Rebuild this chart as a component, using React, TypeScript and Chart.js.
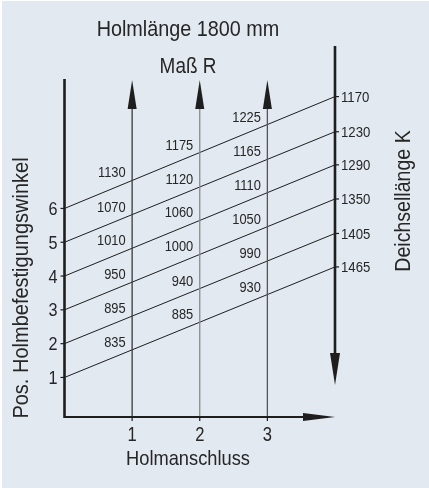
import React, { useEffect, useRef } from "react";
import { Chart, registerables } from "chart.js";

Chart.register(...registerables);

// ---- data ----
const positions = [1, 2, 3, 4, 5, 6];
const positionLabels = ["1", "2", "3", "4", "5", "6"];
const deichselLabels = ["1465", "1405", "1350", "1290", "1230", "1170"];
const rightEndY = [4.27, 5.26, 6.28, 7.29, 8.27, 9.31];
const columns = [1, 2, 3];
const columnTickLabels = ["1", "2", "3"];
const rCol1 = ["835", "895", "950", "1010", "1070", "1130"];
const rCol2 = ["885", "940", "1000", "1060", "1120", "1175"];
const rCol3 = ["930", "990", "1050", "1110", "1165", "1225"];
const rColumns = [rCol1, rCol2, rCol3];
const titleText = "Holmlänge 1800 mm";
const subtitleText = "Maß R";
const yAxisTitle = "Pos. Holmbefestigungswinkel";
const rightAxisTitle = "Deichsellänge K";
const xAxisTitle = "Holmanschluss";

const X_MIN = 0;
const X_MAX = 4;
const Y_MIN = -0.17;
const Y_MAX = 9.83;
const RIGHT_AXIS_TOP = 10.81;
const RIGHT_AXIS_TIP = 0.78;
const RIGHT_ARROW_BASE = 1.72;
const COL_TIP = 9.8;
const COL_ARROW_BASE = 8.94;

const FONT = '"Liberation Sans", Arial, sans-serif';
const INK = "#1e1e1e";
const TEXT = "#262626";
const BG = "#e2e9f1";
const columnColors = ["#3a3a3a", "#8a8a8a", "#555555"];

const bgPlugin = {
  id: "bgPlugin",
  beforeDraw(chart: any) {
    const { ctx, width, height } = chart;
    ctx.save();
    ctx.fillStyle = "#ffffff";
    ctx.fillRect(0, 0, width, height);
    ctx.fillStyle = BG;
    ctx.fillRect(2, 1, width - 2, height - 1);
    ctx.restore();
  },
};

function drawText(
  ctx: CanvasRenderingContext2D,
  text: string,
  x: number,
  y: number,
  size: number,
  sx: number,
  align: CanvasTextAlign,
  baseline: CanvasTextBaseline,
  rotate = 0
) {
  ctx.save();
  ctx.translate(x, y);
  if (rotate) ctx.rotate(rotate);
  ctx.scale(sx, 1);
  ctx.font = `${size}px ${FONT}`;
  ctx.textAlign = align;
  ctx.textBaseline = baseline;
  ctx.fillStyle = TEXT;
  ctx.fillText(text, 0, 0);
  ctx.restore();
}

const nomogramPlugin = {
  id: "nomogramPlugin",
  afterDraw(chart: any) {
    const ctx = chart.ctx as CanvasRenderingContext2D;
    const xs = chart.scales.x;
    const ys = chart.scales.y;
    const X = (v: number) => xs.getPixelForValue(v);
    const Y = (v: number) => ys.getPixelForValue(v);

    const line = (x1: number, y1: number, x2: number, y2: number, w: number, c: string) => {
      ctx.beginPath();
      ctx.moveTo(x1, y1);
      ctx.lineTo(x2, y2);
      ctx.lineWidth = w;
      ctx.strokeStyle = c;
      ctx.stroke();
    };
    const tri = (pts: number[][]) => {
      ctx.beginPath();
      ctx.moveTo(pts[0][0], pts[0][1]);
      ctx.lineTo(pts[1][0], pts[1][1]);
      ctx.lineTo(pts[2][0], pts[2][1]);
      ctx.closePath();
      ctx.fillStyle = INK;
      ctx.fill();
    };

    ctx.save();
    ctx.lineCap = "butt";

    // left axis
    line(X(0), Y(Y_MAX), X(0), Y(Y_MIN) + 1, 2.6, INK);
    // bottom axis
    line(X(0), Y(Y_MIN), X(X_MAX) - 20, Y(Y_MIN), 2.2, INK);
    tri([
      [X(X_MAX), Y(Y_MIN)],
      [X(X_MAX) - 32, Y(Y_MIN) - 4],
      [X(X_MAX) - 32, Y(Y_MIN) + 4],
    ]);
    // right axis with downward arrow
    line(X(X_MAX), Y(RIGHT_AXIS_TOP), X(X_MAX), Y(RIGHT_ARROW_BASE), 2.6, INK);
    tri([
      [X(X_MAX), Y(RIGHT_AXIS_TIP)],
      [X(X_MAX) - 5, Y(RIGHT_ARROW_BASE)],
      [X(X_MAX) + 5, Y(RIGHT_ARROW_BASE)],
    ]);

    // column arrowheads
    columns.forEach((c) => {
      tri([
        [X(c), Y(COL_TIP)],
        [X(c) - 4.5, Y(COL_ARROW_BASE)],
        [X(c) + 4.5, Y(COL_ARROW_BASE)],
      ]);
      line(X(c), Y(Y_MIN), X(c), Y(Y_MIN) + 4, 1.2, INK);
    });

    // left ticks
    positions.forEach((p) => line(X(0) - 4, Y(p), X(0), Y(p), 1.2, INK));
    // right ticks
    rightEndY.forEach((v) => line(X(X_MAX), Y(v), X(X_MAX) + 4, Y(v), 1.2, INK));

    // titles
    drawText(ctx, titleText, 188, 36, 22, 0.9, "center", "alphabetic");
    drawText(ctx, subtitleText, 188, 73, 22, 0.86, "center", "alphabetic");
    drawText(ctx, xAxisTitle, 188, 465, 21, 0.87, "center", "alphabetic");
    drawText(ctx, yAxisTitle, 28, 288, 21.5, 0.93, "center", "alphabetic", -Math.PI / 2);
    drawText(ctx, rightAxisTitle, 410, 201, 22, 0.89, "center", "alphabetic", -Math.PI / 2);

    // left position labels
    positions.forEach((p, i) =>
      drawText(ctx, positionLabels[i], X(0) - 7, Y(p) + 6.5, 18, 0.9, "right", "alphabetic")
    );

    // bottom column labels
    columns.forEach((c, i) =>
      drawText(ctx, columnTickLabels[i], X(c), Y(Y_MIN) + 24, 19.5, 0.85, "center", "alphabetic")
    );

    // right Deichsellänge labels
    rightEndY.forEach((v, i) =>
      drawText(ctx, deichselLabels[i], X(X_MAX) + 6, Y(v) + 5.5, 15.5, 0.85, "left", "alphabetic")
    );

    // Maß R labels above the lines at each column
    columns.forEach((c, ci) => {
      positions.forEach((p, i) => {
        const yAtCol = p + ((rightEndY[i] - p) * (c - X_MIN)) / (X_MAX - X_MIN);
        drawText(ctx, rColumns[ci][i], X(c) - 6.5, Y(yAtCol) - 3, 15.5, 0.83, "right", "alphabetic");
      });
    });

    ctx.restore();
  },
};

export default function App() {
  const canvasRef = useRef<HTMLCanvasElement | null>(null);

  useEffect(() => {
    document.body.style.margin = "0";
    const canvas = canvasRef.current;
    if (!canvas) return;

    const diagonalSets = positions.map((p, i) => ({
      label: `Pos ${p}`,
      data: [
        { x: X_MIN, y: p },
        { x: X_MAX, y: rightEndY[i] },
      ],
      borderColor: INK,
      borderWidth: 1,
      pointRadius: 0,
      showLine: true,
      fill: false,
    }));
    const columnSets = columns.map((c, i) => ({
      label: `Holmanschluss ${c}`,
      data: [
        { x: c, y: Y_MIN },
        { x: c, y: COL_ARROW_BASE },
      ],
      borderColor: columnColors[i],
      borderWidth: 1.3,
      pointRadius: 0,
      showLine: true,
      fill: false,
    }));

    const chart = new Chart(canvas, {
      type: "scatter",
      data: { datasets: [...columnSets, ...diagonalSets] as any },
      options: {
        animation: false,
        responsive: false,
        devicePixelRatio: 1,
        layout: { padding: { left: 64.5, right: 94, top: 79, bottom: 71 } },
        plugins: { legend: { display: false }, tooltip: { enabled: false }, title: { display: false } },
        scales: {
          x: { type: "linear", min: X_MIN, max: X_MAX, display: false },
          y: { type: "linear", min: Y_MIN, max: Y_MAX, display: false },
        },
      },
      plugins: [bgPlugin, nomogramPlugin],
    });

    return () => chart.destroy();
  }, []);

  return (
    <div style={{ position: "absolute", left: 0, top: 0, width: 429, height: 488 }}>
      <canvas ref={canvasRef} width={429} height={488} style={{ width: 429, height: 488, display: "block" }} />
    </div>
  );
}
